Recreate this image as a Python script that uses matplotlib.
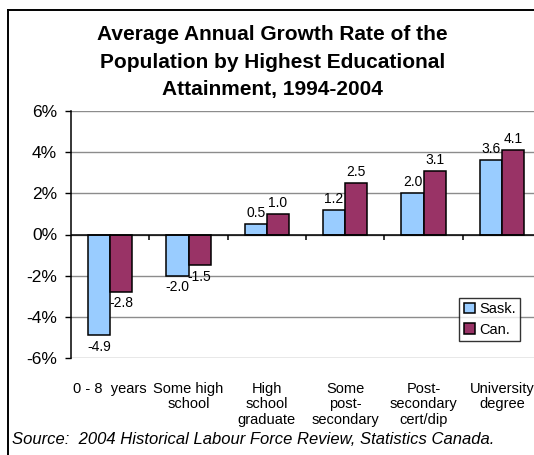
import numpy as np
import matplotlib
matplotlib.use("Agg")
import matplotlib.pyplot as plt
from matplotlib.lines import Line2D

plt.rcParams['font.family'] = ['Liberation Sans', 'DejaVu Sans']

# growth rates by highest educational attainment, 1994-2004 (%)
categories = [
    "0 - 8  years",
    "Some high\nschool",
    "High\nschool\ngraduate",
    "Some\npost-\nsecondary",
    "Post-\nsecondary\ncert/dip",
    "University\ndegree",
]
sask = [-4.9, -2.0, 0.5, 1.2, 2.0, 3.6]
can = [-2.8, -1.5, 1.0, 2.5, 3.1, 4.1]
series_names = ["Sask.", "Can."]
y_ticks = [-6, -4, -2, 0, 2, 4, 6]

W, H = 534, 455
fig = plt.figure(figsize=(W / 100, H / 100), dpi=100)
ax = fig.add_axes([71 / W, 1 - 358 / H, (541 - 71) / W, (358 - 111) / H])

x = np.arange(len(categories))
bw = 0.282
b1 = ax.bar(x - bw / 2, sask, bw, color="#99CCFF", edgecolor="black",
            linewidth=1.1, label=series_names[0], zorder=3)
b2 = ax.bar(x + bw / 2, can, bw, color="#993366", edgecolor="black",
            linewidth=1.1, label=series_names[1], zorder=3)

# value labels above / below each bar
for bars, vals in ((b1, sask), (b2, can)):
    for rect, v in zip(bars, vals):
        cx = rect.get_x() + rect.get_width() / 2
        off = 3 if v >= 0 else -3
        ax.annotate(f"{v:.1f}", (cx, v), xytext=(0, off),
                    textcoords="offset points", ha="center",
                    va="bottom" if v >= 0 else "top", fontsize=10)

ax.set_xlim(-0.5, len(categories) - 0.5)
ax.set_ylim(-6, 6)
ax.set_yticks(y_ticks)
ax.set_yticklabels([f"{t}%" for t in y_ticks], fontsize=12.5)
ax.yaxis.grid(True, color="#8c8c8c", linewidth=1.0, zorder=0)
ax.tick_params(axis="y", length=4, width=1, pad=6)

ax.set_xticks(x)
ax.set_xticklabels(categories, fontsize=10.5, linespacing=1.15)
ax.tick_params(axis="x", length=0, pad=17)

for s in ("top", "right", "bottom"):
    ax.spines[s].set_visible(False)
ax.spines["left"].set_linewidth(1.1)

# category axis at zero with tick marks between groups
ax.axhline(0, color="black", linewidth=1.1, zorder=4)
ax.vlines(x[:-1] + 0.5, -0.25, 0, color="black", linewidth=1.1, zorder=4)

leg = ax.legend(loc="lower left", bbox_to_anchor=(0.826, 0.069),
                fontsize=10.5, frameon=True, fancybox=False,
                handlelength=0.75, handleheight=0.75, handletextpad=0.3,
                borderpad=0.3, labelspacing=0.45, borderaxespad=0)
leg.get_frame().set_edgecolor("black")
leg.get_frame().set_linewidth(1.0)

fig.text(0.51, 1 - 62 / H,
         "Average Annual Growth Rate of the\n"
         "Population by Highest Educational\n"
         "Attainment, 1994-2004",
         ha="center", va="center", fontsize=15, fontweight="bold",
         linespacing=1.6)

fig.text(12 / W, 1 - 440 / H,
         "Source:  2004 Historical Labour Force Review, Statistics Canada.",
         ha="left", va="center", fontsize=12, style="italic")

# chart frame (left and top edges)
fig.add_artist(Line2D([7.5 / W, 7.5 / W], [0, 1 - 10 / H],
                      transform=fig.transFigure, color="black", linewidth=1.4))
fig.add_artist(Line2D([7.5 / W, 1], [1 - 10 / H, 1 - 10 / H],
                      transform=fig.transFigure, color="black", linewidth=1.4))

fig.savefig("out.png", dpi=100)
